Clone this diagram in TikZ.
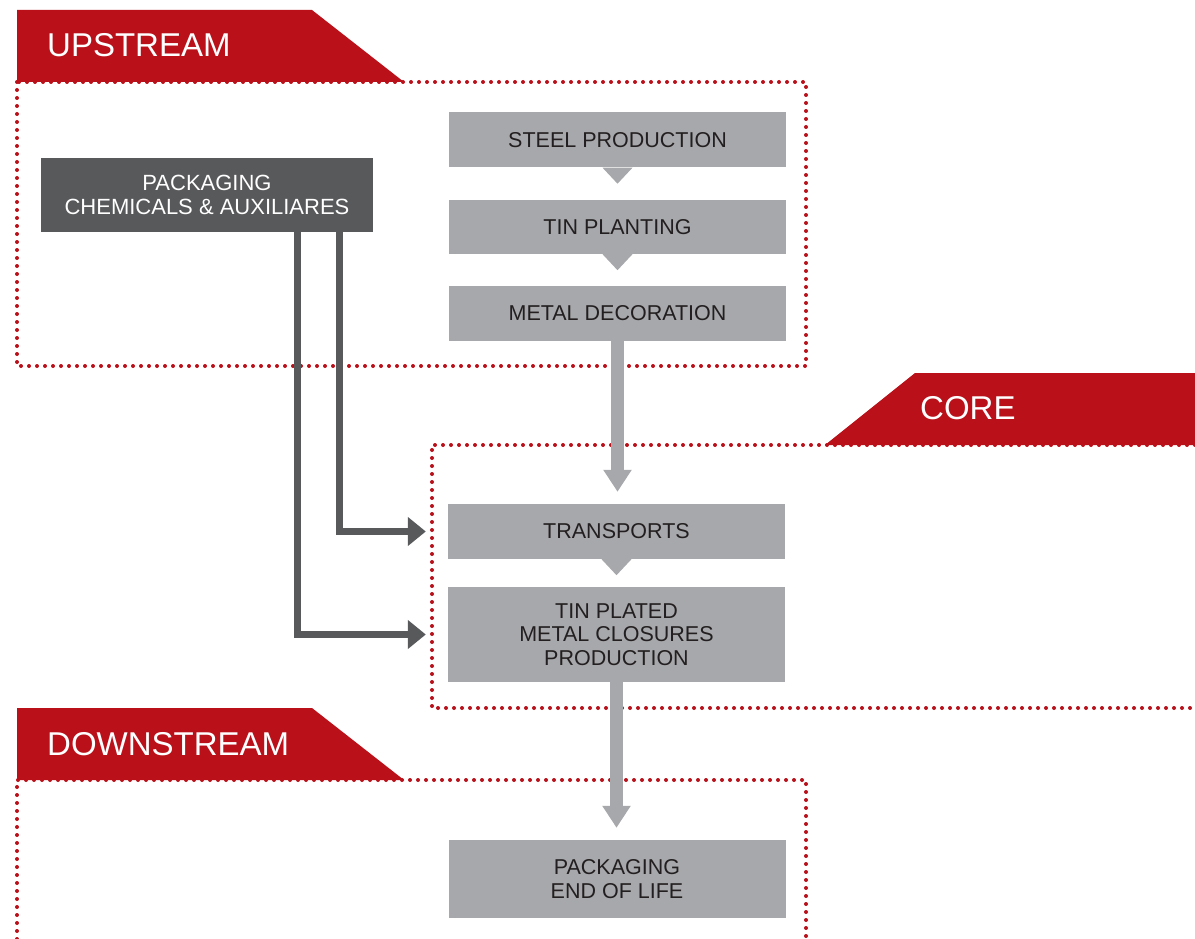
\documentclass[tikz,border=0pt]{standalone}
\usepackage{fontspec}
\setmainfont{Liberation Sans}
\usetikzlibrary{arrows.meta,positioning}
\definecolor{bannerred}{HTML}{BA1019}
\definecolor{boxgray}{HTML}{A7A8AB}
\definecolor{chemgray}{HTML}{58595B}
\definecolor{textdark}{HTML}{231F20}

\begin{document}
\begin{tikzpicture}[
x=1pt, y=-1pt,
font=\fontsize{21.5}{23.5}\selectfont,
stage/.style={fill=boxgray, text=textdark, minimum width=337pt, align=center, inner sep=0pt},
supply/.style={fill=chemgray, text=white, minimum width=332pt, minimum height=74pt, align=center, inner sep=0pt,
    font=\fontsize{22}{23.5}\selectfont},
banner/.style={text=white, font=\fontsize{33}{36}\selectfont, anchor=base west, inner sep=0pt},
zone/.style={bannerred, line width=4pt, line cap=round, dash pattern=on 0pt off 8pt},
flow/.style={boxgray, line width=13pt, -{Triangle[width=27pt,length=22pt]}, shorten >=12pt},
feed/.style={chemgray, line width=7pt, -{Triangle[width=28pt,length=18pt]}, shorten >=22pt}
]
    \useasboundingbox (0,0) rectangle (1195,939);

    % dotted zones
    \draw[zone] (17,82) rectangle (806,366);
    \draw[zone] (1195,445) -- (432,445) -- (432,708) -- (1195,708);
    \draw[zone] (17,939) -- (17,780) -- (806,780) -- (806,939);

    % banners
    \fill[bannerred] (17,10) -- (312,10) -- (404,82) -- (17,82) -- cycle;
    \node[banner] (upstream) at (47,57) {UPSTREAM};
    \fill[bannerred] (825,445) -- (915,373) -- (1195,373) -- (1195,445) -- cycle;
    \node[banner] (core) at (920,419) {CORE};
    \fill[bannerred] (17,708) -- (312,708) -- (404,780) -- (17,780) -- cycle;
    \node[banner] (downstream) at (47,755) {DOWNSTREAM};

    % stages
    \node[stage, minimum height=55pt] (steel) at (617.5,140) {STEEL PRODUCTION};
    \node[stage, minimum height=54pt] (tinplate) at (617.5,227) {TIN PLANTING};
    \node[stage, minimum height=55pt] (metaldeco) at (617.5,313.5) {METAL DECORATION};
    \node[stage, minimum height=55pt] (transports) at (616.5,531.5) {TRANSPORTS};
    \node[stage, minimum height=95pt] (closures) at (616.5,634.5) {TIN PLATED\\METAL CLOSURES\\PRODUCTION};
    \node[stage, minimum height=78pt] (endlife) at (617,879) {PACKAGING\\END OF LIFE};
    \node[supply] (chemicals) at (207,195) {PACKAGING\\CHEMICALS \& AUXILIARES};

    % pointers under stages
    \foreach \stagename in {steel,tinplate,transports}
        \fill[boxgray] ([xshift=-15pt]\stagename.south) -- ([xshift=15pt]\stagename.south)
            -- ([yshift=-16pt]\stagename.south) -- cycle;

    % connectors
    \draw[flow] (metaldeco.south) -- (metaldeco.south |- transports.north);
    \draw[flow] (closures.south) -- (closures.south |- endlife.north);
    \draw[feed] ([xshift=132.5pt]chemicals.south) |- (transports.west);
    \draw[feed] ([xshift=90.5pt]chemicals.south) |- (closures.west);
\end{tikzpicture}
\end{document}
